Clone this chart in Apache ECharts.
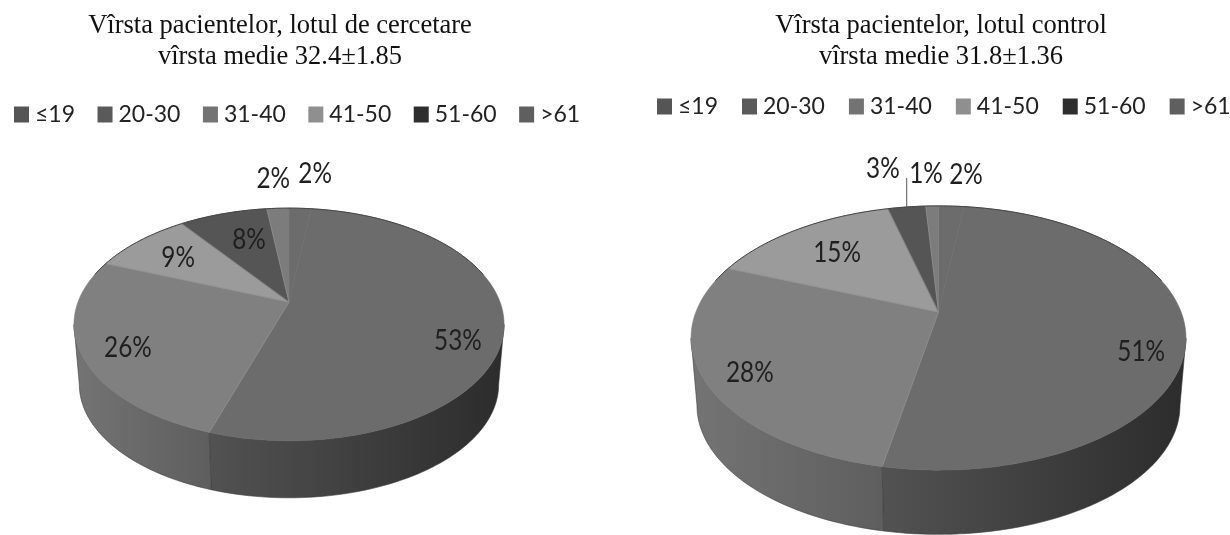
<!DOCTYPE html>
<html>
<head>
<meta charset="utf-8">
<style>html,body{margin:0;padding:0;background:#fff}#chart{width:1230px;height:535px}</style>
<script src="https://cdn.jsdelivr.net/npm/echarts@6/dist/echarts.min.js"></script>
</head>
<body>
<div id="chart"></div>
<script>
// Age bands shared by both study groups
const ageGroups = ['≤19', '20-30', '31-40', '41-50', '51-60', '>61'];

// Share of patients per age band, in percent
const researchShares = [2, 53, 26, 9, 8, 2];
const controlShares = [2, 51, 28, 15, 3, 1];

// Headings
const researchTitle = 'Vîrsta pacientelor, lotul de cercetare\nvîrsta medie 32.4±1.85';
const controlTitle = 'Vîrsta pacientelor, lotul control\nvîrsta medie 31.8±1.36';

// Slice face colours and legend key colours, per age band
const faceColors = ['#6c6c6c', '#6c6c6c', '#808080', '#9b9b9b', '#555555', '#7c7c7c'];
const keyColors = ['#555555', '#5a5a5a', '#737373', '#8f8f8f', '#2e2e2e', '#5f5f5f'];

// Side wall shading per age band, [left, right]
const wallColors = [
  ['#3a3a3a', '#2c2c2c'], ['#525252', '#2c2c2c'], ['#747474', '#5e5e5e'],
  ['#707070', '#707070'], ['#707070', '#707070'], ['#707070', '#707070']
];

// Label placement in the plane of each pie: [radius, bearing in degrees]
const researchLabelSpots = [[1.475, 6.2], [0.818, 113.5], [0.803, 241.7], [0.71, 306.8], [0.655, 341.1], [1.396, 356.1]];
const controlLabelSpots = [[1.378, 6], [0.841, 110.7], [0.835, 238.3], [0.688, 318], [1.477, 348.5], [1.385, 357.3]];

// Perspective pies: hub position, radii, foreshortening and wall depth
const researchPie = { cx: 289, cy: 302, a: 211, b: 112, k: 0.193, depth: 60.5, base: 0.975 };
const controlPie = { cx: 938.5, cy: 312, a: 242.6, b: 127, k: 0.197, depth: 68, base: 0.976 };

// Projects a point of the pie plane (bearing clockwise from 12 o'clock) to the screen
function project(pie, bearing, radius, lowered) {
  const t = bearing * Math.PI / 180;
  const u = radius * Math.sin(t), v = radius * Math.cos(t), w = 1 + pie.k * v;
  const s = lowered ? pie.base : 1;
  return [pie.cx + s * pie.a * u / w, pie.cy + (lowered ? pie.depth : 0) - s * pie.b * v / w];
}

function arc(pie, from, to, lowered) {
  const pts = [], steps = Math.max(2, Math.ceil((to - from) / 1.5));
  for (let i = 0; i <= steps; i++) pts.push(project(pie, from + (to - from) * i / steps, 1, lowered));
  return pts;
}

function makeSeries(pie, shares, spots, leaderIndex) {
  // The visible wall runs between the two widest points of the projected rim
  const wallFrom = Math.acos(-pie.k) * 180 / Math.PI, wallTo = 360 - wallFrom;
  let running = 0;
  return ageGroups.map((name, i) => {
    const start = running / 100 * 360;
    running += shares[i];
    return {
      type: 'custom',
      name,
      coordinateSystem: 'none',
      silent: true,
      itemStyle: { color: faceColors[i] },
      data: [[shares[i]]],
      renderItem(params, api) {
        const value = api.value(0);
        const sweep = value / 100 * 360;
        const children = [];
        const a0 = Math.max(start, wallFrom), a1 = Math.min(start + sweep, wallTo);
        if (a1 > a0) {
          const top = arc(pie, a0, a1, false), bottom = arc(pie, a0, a1, true).reverse();
          const pts = top.concat(bottom);
          const xs = pts.map(p => p[0]);
          children.push({
            type: 'polygon', z2: 1, shape: { points: pts },
            style: {
              fill: {
                type: 'linear', global: true,
                x: Math.min(...xs), y: 0, x2: Math.max(...xs), y2: 0,
                colorStops: [{ offset: 0, color: wallColors[i][0] }, { offset: 1, color: wallColors[i][1] }]
              },
              stroke: '#3d3d3d', lineWidth: 0.6
            }
          });
        }
        const rim = arc(pie, start, start + sweep, false);
        const hub = [pie.cx, pie.cy];
        children.push({
          type: 'polygon', z2: 5,
          shape: { points: [hub].concat(rim) },
          style: { fill: faceColors[i], stroke: faceColors[i], lineWidth: 0.6 }
        });
        // Light seam on the leading edge; the two nearly equal bands stay seamless
        if (i > 1) {
          children.push({
            type: 'line', z2: 6,
            shape: { x1: hub[0], y1: hub[1], x2: rim[0][0], y2: rim[0][1] },
            style: { stroke: '#8e8e8e', lineWidth: 0.7 }
          });
        }
        // Back half of the rim reads as a dark outline
        const backA = Math.max(start, 285), backB = Math.min(start + sweep, 360);
        const frontA = start, frontB = Math.min(start + sweep, 75);
        [[backA, backB], [frontA, frontB]].forEach(([p, q]) => {
          if (q > p) {
            children.push({
              type: 'polyline', z2: 6, shape: { points: arc(pie, p, q, false) },
              style: { fill: null, stroke: '#444444', lineWidth: 1 }
            });
          }
        });
        const spot = project(pie, spots[i][1], spots[i][0], false);
        children.push({
          type: 'text', z2: 9, x: spot[0], y: spot[1], scaleX: 0.87,
          style: {
            text: value + '%', x: 0, y: 0, fill: '#1f1f1f',
            font: '28px Lato', textAlign: 'center', textVerticalAlign: 'middle'
          }
        });
        if (i === leaderIndex) {
          // Thin leader from the label down to the rim
          const rimPoint = project(pie, 351, 1, false);
          children.push({
            type: 'line', z2: 7,
            shape: { x1: rimPoint[0], y1: spot[1] + 4, x2: rimPoint[0], y2: rimPoint[1] + 1 },
            style: { stroke: '#555555', lineWidth: 1 }
          });
        }
        return { type: 'group', children };
      }
    };
  });
}

const legendTextStyle = { fontFamily: 'Lato', fontSize: 23, color: '#222222', padding: [0, 0, 0, 1] };
const legendData = ageGroups.map((name, i) => ({ name, itemStyle: { color: keyColors[i] } }));
const legendBase = {
  orient: 'horizontal', icon: 'rect', padding: 0, width: 620,
  itemWidth: 15, itemHeight: 16, textStyle: legendTextStyle, data: legendData
};
const titleBase = {
  textAlign: 'center', padding: 0,
  textStyle: { fontFamily: 'Liberation Serif', fontSize: 26.5, fontWeight: 'normal', color: '#111111', lineHeight: 31 }
};

const chart = echarts.init(document.getElementById('chart'));
chart.setOption({
  backgroundColor: '#ffffff',
  animation: false,
  title: [
    Object.assign({ text: researchTitle, left: 280, top: 11 }, titleBase),
    Object.assign({ text: controlTitle, left: 941, top: 11 }, titleBase)
  ],
  legend: [
    Object.assign({ left: 14, top: 103, itemGap: 22.5 }, legendBase),
    Object.assign({ left: 657, top: 95, itemGap: 24 }, legendBase)
  ],
  series: makeSeries(researchPie, researchShares, researchLabelSpots, -1)
    .concat(makeSeries(controlPie, controlShares, controlLabelSpots, 5))
});
</script>
</body>
</html>
